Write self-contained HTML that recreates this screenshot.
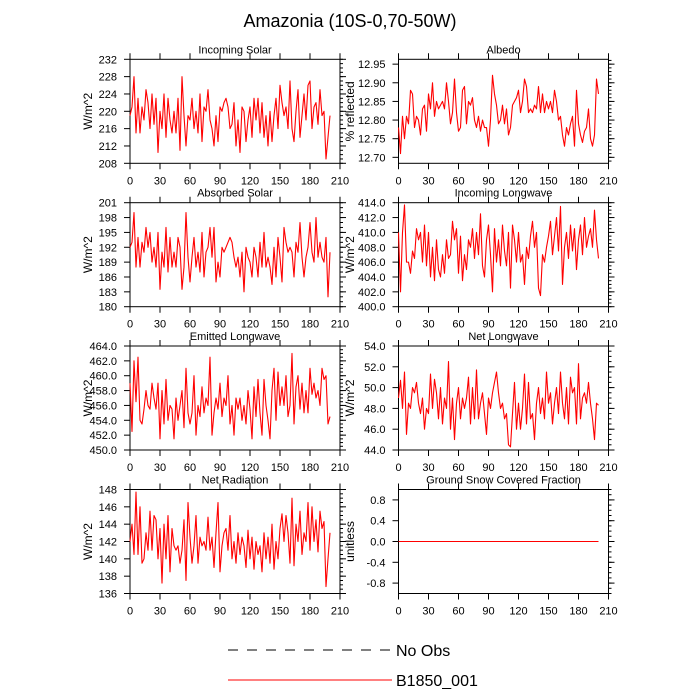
<!DOCTYPE html>
<html><head><meta charset="utf-8"><style>
html,body{margin:0;padding:0;background:#fff;}
svg{display:block;font-family:"Liberation Sans",sans-serif;}
</style></head><body>
<svg id="chart" width="700" height="700" viewBox="0 0 700 700" xmlns="http://www.w3.org/2000/svg">
<text x="350" y="27" font-size="18" text-anchor="middle">Amazonia (10S-0,70-50W)</text>
<g id="panels"></g>
<g>
<line x1="228" y1="650" x2="392" y2="650" stroke="#000" stroke-width="1" stroke-dasharray="10,9"/>
<text x="396" y="656" font-size="16">No Obs</text>
<line x1="228" y1="680" x2="392" y2="680" stroke="#ff0000" stroke-width="1"/>
<text x="396" y="686" font-size="16">B1850_001</text>
</g>
</svg>
<script>
const incomingSolar=[219,221,228,215,223,215,221,218,225,222,
216,224,217,223,210.5,220,216,224,214,223,
218,215,220,215,223,211,228,219,212,219,
218,223,216,220,215,224,213,221,220,225,
218,216,212,219,213,221,220,222,223,221,
216,217,222,212,218,210.5,221,220,213,218,
221,214,223,218,223,215,222,214,219,212,
220,213,219,223,216,226,222,219,221,216,
227,216,213,220,225,214,219,224,218,226,
227,216,221,222,217,225,219,220,209,214,
219];
const albedo=[12.78,12.71,12.81,12.75,12.81,12.79,12.88,12.87,12.78,12.81,
12.80,12.76,12.83,12.84,12.77,12.87,12.83,12.90,12.81,12.85,
12.83,12.84,12.85,12.83,12.90,12.85,12.79,12.82,12.91,12.82,
12.77,12.78,12.88,12.89,12.79,12.85,12.84,12.86,12.80,12.78,
12.81,12.77,12.80,12.78,12.78,12.73,12.80,12.92,12.87,12.84,
12.79,12.80,12.84,12.79,12.83,12.76,12.78,12.84,12.85,12.86,
12.88,12.82,12.85,12.91,12.89,12.82,12.83,12.82,12.84,12.83,
12.89,12.82,12.87,12.82,12.85,12.83,12.85,12.82,12.88,12.85,
12.80,12.81,12.76,12.73,12.78,12.76,12.79,12.81,12.73,12.88,
12.79,12.76,12.74,12.77,12.78,12.83,12.75,12.73,12.76,12.91,
12.87];
const absorbedSolar=[192,193,199,188,194,188,193,191,196,192,
195,189,192,188,195,183.5,191,188,196,187,
194,188,191,188,194,192,183.5,188,199,190,
185,190,194,188,191,187,195,186,191,192,
196,190,196,185,189,186,192,191,192,193,
194,193,190,188,190,186,191,183,192,190,
189,186,192,190,186,193,188,195,188,190,
188,184.5,192,186,194,190,185,196,193,191,
192,191,186,193,191,197,190,186,190,192,
197,191,189,198,190,193,190,189,194,182,
191];
const incomingLongwave=[410,402,410,413.7,406,406,404.5,407.5,406.5,410.5,
409,410,406,411,405.5,410,404,408,403.5,409,
405,404,407,404.5,409,406.5,407,411.5,409,410.5,
404.5,409.5,403.5,407,405,409,408,410.5,406.5,410,
407,412.5,405.5,404,409,411,407,402,410.5,406,
409,405.5,411,407.5,405.5,410,402.5,411,409,406,
410,406,407,403,408,406.5,409.5,411.5,408,410,
402.5,401.5,407,406,408,409.5,411.5,407,409.5,412,
407.5,413.5,403,408,410,406.5,411,407.5,410.5,405,
409,411,407,412,408,409.5,410.5,408,413,409,
406.5];
const emittedLongwave=[459,452.5,462,456.5,462.5,454,453.5,455.5,458,456,
455.5,459,457,455.5,459,451.5,458,453.5,459.5,454,
456,455.5,451.5,457,454,456,458,453,461,455,
453.5,455,460,452,456,454.5,458.5,455,457,456,
462.5,452,455,457,455.5,459,454.5,457,456,460,
453.5,456,452,457,455.5,457,454,456,453.5,458,
455.5,451.5,458.5,454.5,459.5,455,452,459.5,456,454,
451.5,458,461,454,460.5,456,458.5,456,460,454.5,
456,463,453.5,458.5,460,455.5,459,455,458,455,
461,457.5,459,457,458,456,461,459.5,460,453.5,
454.5];
const netLongwave=[49,50.7,48,51.5,45.5,48.5,48,50,49.5,50.5,
48.5,47.5,49,46,48,47.5,51.3,48,50.8,49.5,
47,50,46.5,49,48,52.5,46,49,45,48.5,
50,47,49,48,49,51,46.5,50,47,51.7,
47,48.5,49.5,47.5,45.5,49,48,49.5,50.5,51.5,
49.5,48,48.5,47,47.5,44.5,44.3,47.5,50.5,46,
48.5,46,48,51.3,46.5,50.5,47,47.5,45,48.5,
50,47.5,49,47,51.5,48.5,49.5,46.5,48.5,50,
47.5,51.5,48.5,47,50,46.5,51,49.5,50,46.5,
52.3,47,49,49.5,48.5,50.5,48.5,47,45,48.5,
48.3];
const netRadiation=[142,144,140.5,147.7,140.5,146,139.5,140,143,141,
145.5,141,145,144.5,140,143.5,137.2,144,140,145,
138.5,143.5,141.5,141,141.5,139.5,141,144.5,137.5,146.5,
142.5,139.5,141.5,145,139.5,142.5,141.5,142,141,144.8,
141,142.5,139,143,146.5,138.5,141.5,143,143.5,141,
145,140,142,139.5,143,140.5,142.5,141.5,139,143.3,
140,142.5,138.8,142,140.5,141.5,138.5,143,140,142.5,
139.5,144,138.8,142,140,143.5,145.2,142,145,143,
139.5,147,139.2,144,142,145.5,140.5,143,142,146.5,
141,146,142,144.5,140.8,145.5,143.5,144.3,136.8,140,
143];
const snowFraction=[0,0,0,0,0,0,0,0,0,0,0,0,0,0,0,0,0,0,0,0,0,0,0,0,0,0,0,0,0,0,0,0,0,0,0,0,0,0,0,0,0,0,0,0,0,0,0,0,0,0,0,0,0,0,0,0,0,0,0,0,0,0,0,0,0,0,0,0,0,0,0,0,0,0,0,0,0,0,0,0,0,0,0,0,0,0,0,0,0,0,0,0,0,0,0,0,0,0,0,0,0];
const yearStep=2;
const xTickLabels=[0,30,60,90,120,150,180,210];

const NS="http://www.w3.org/2000/svg";
const root=document.getElementById('panels');
function mk(tag,attrs,parent){const e=document.createElementNS(NS,tag);for(const k in attrs)e.setAttribute(k,attrs[k]);parent.appendChild(e);return e;}

const panels=[
 {slug:'incoming-solar',title:'Incoming Solar',ylab:'W/m^2',data:incomingSolar,ymin:208,ymax:232,major:4,minor:1,dec:0,col:0,row:0},
 {slug:'albedo',title:'Albedo',ylab:'% reflected',data:albedo,ymin:12.684,ymax:12.963,major:0.05,minor:0.01,dec:2,col:1,row:0,t0:12.70,t1:12.95},
 {slug:'absorbed-solar',title:'Absorbed Solar',ylab:'W/m^2',data:absorbedSolar,ymin:180,ymax:201,major:3,minor:1,dec:0,col:0,row:1},
 {slug:'incoming-longwave',title:'Incoming Longwave',ylab:'W/m^2',data:incomingLongwave,ymin:400,ymax:414,major:2,minor:0.5,dec:1,col:1,row:1},
 {slug:'emitted-longwave',title:'Emitted Longwave',ylab:'W/m^2',data:emittedLongwave,ymin:450,ymax:464,major:2,minor:0.5,dec:1,col:0,row:2},
 {slug:'net-longwave',title:'Net Longwave',ylab:'W/m^2',data:netLongwave,ymin:44,ymax:54,major:2,minor:0.5,dec:1,col:1,row:2},
 {slug:'net-radiation',title:'Net Radiation',ylab:'W/m^2',data:netRadiation,ymin:136,ymax:148,major:2,minor:0.5,dec:0,col:0,row:3},
 {slug:'ground-snow-covered-fraction',title:'Ground Snow Covered Fraction',ylab:'unitless',data:snowFraction,ymin:-1,ymax:1,major:0.4,minor:0.1,dec:1,col:1,row:3,t0:-0.8,t1:0.8}
];
const colX=[130,398.5], rowY=[59.3,202.7,346,489.5], W=210, H=104;

panels.forEach(p=>{
 const L=colX[p.col], T=rowY[p.row], B=T+H, R=L+W;
 const g=mk('g',{},root);
 
 
 const xs=v=>L+v/210*W;
 const ys=v=>B-(v-p.ymin)/(p.ymax-p.ymin)*H;
 const t=mk('text',{x:(L+R)/2,y:T-6,'font-size':11,'text-anchor':'middle'},g);
 t.textContent=p.title;
 
 
 const t0=p.t0!==undefined?p.t0:p.ymin, t1=p.t1!==undefined?p.t1:p.ymax;
 const eps=1e-6;
 let m0=Math.ceil((p.ymin-eps)/p.minor);
 for(let k=m0;k*p.minor<=p.ymax+eps;k++){const v=k*p.minor;const y=ys(v);
  mk('line',{x1:R,x2:R+3,y1:y,y2:y,stroke:'#000','stroke-width':1},g);}
 const n=Math.round((t1-t0)/p.major);
 for(let i=0;i<=n;i++){const v=t0+i*p.major;const y=ys(v);
  mk('line',{x1:L-6,x2:L,y1:y,y2:y,stroke:'#000','stroke-width':1},g);
  mk('line',{x1:R,x2:R+6,y1:y,y2:y,stroke:'#000','stroke-width':1},g);
  const tl=mk('text',{x:L-13,y:y+4,'font-size':11,'text-anchor':'end'},g);
  tl.textContent=v.toFixed(p.dec);
  
  }
 xTickLabels.forEach(v=>{const x=xs(v);
  mk('line',{x1:x,x2:x,y1:B,y2:B+6,stroke:'#000','stroke-width':1},g);
  mk('line',{x1:x,x2:x,y1:T-6,y2:T,stroke:'#000','stroke-width':1},g);
  const tl=mk('text',{x:x,y:B+21,'font-size':11,'text-anchor':'middle'},g);
  tl.textContent=v;
  
  });
 const yx=p.col===0?92:354, yy=(T+B)/2;
 const yt=mk('text',{x:yx,y:yy,'font-size':12,'text-anchor':'middle',transform:`rotate(-90 ${yx} ${yy})`},g);
 yt.textContent=p.ylab;
 
 
 const fr=mk('rect',{x:L,y:T,width:W,height:H,fill:'none',stroke:'#000','stroke-width':1},g);
 
 
 const pts=p.data.map((v,i)=>xs(i*yearStep).toFixed(2)+','+ys(v).toFixed(2)).join(' ');
 const pl=mk('polyline',{points:pts,fill:'none',stroke:'#ff0000','stroke-width':1.1,'stroke-linejoin':'round'},g);
 
 
});
</script>
</body></html>
